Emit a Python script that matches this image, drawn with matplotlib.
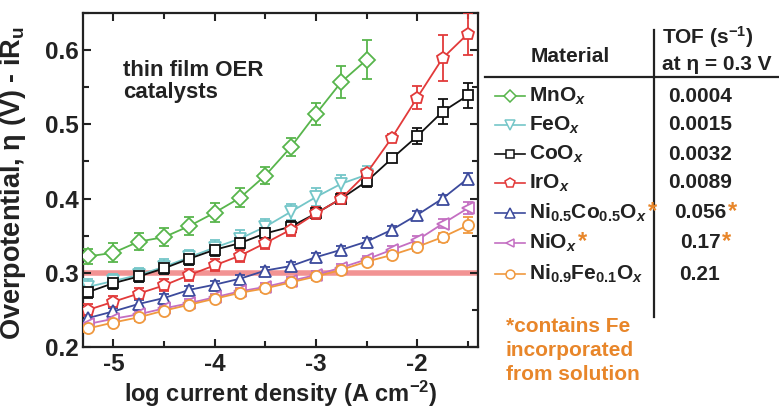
import matplotlib
matplotlib.use("Agg")
import matplotlib.pyplot as plt
import numpy as np
from matplotlib.ticker import MultipleLocator

plt.rcParams['font.family'] = ['Liberation Sans', 'DejaVu Sans']
plt.rcParams['font.weight'] = 'bold'
plt.rcParams['mathtext.fontset'] = 'custom'
plt.rcParams['mathtext.rm'] = 'Liberation Sans:bold'
plt.rcParams['mathtext.it'] = 'Liberation Sans:italic:bold'
plt.rcParams['mathtext.bf'] = 'Liberation Sans:bold'

# ---------------- data ----------------
log_j = [-5.25, -5.0, -4.75, -4.5, -4.25, -4.0, -3.75, -3.5, -3.25, -3.0,
         -2.75, -2.5, -2.25, -2.0, -1.75, -1.5]

mno = [0.322, 0.327, 0.342, 0.348, 0.363, 0.381, 0.401, 0.431, 0.469, 0.514, 0.557, 0.587]
mno_err = [0.010, 0.013, 0.011, 0.012, 0.012, 0.013, 0.013, 0.012, 0.012, 0.015, 0.022, 0.026]

feo = [0.281, 0.289, 0.297, 0.308, 0.321, 0.334, 0.346, 0.362, 0.382, 0.402, 0.420, 0.432]
feo_err = [0.010, 0.010, 0.010, 0.010, 0.010, 0.010, 0.011, 0.011, 0.011, 0.012, 0.012, 0.012]

coo = [0.274, 0.286, 0.295, 0.306, 0.319, 0.331, 0.340, 0.353, 0.362, 0.380, 0.400, 0.423,
       0.454, 0.484, 0.517, 0.539]
coo_err = [0.008, 0.008, 0.008, 0.008, 0.008, 0.008, 0.008, 0.008, 0.008, 0.008, 0.008, 0.008,
           0.004, 0.011, 0.017, 0.017]

iro = [0.250, 0.261, 0.272, 0.283, 0.297, 0.310, 0.323, 0.340, 0.358, 0.380, 0.400, 0.434,
       0.482, 0.536, 0.589, 0.622]
iro_err = [0.008, 0.008, 0.008, 0.008, 0.008, 0.008, 0.008, 0.008, 0.008, 0.008, 0.008, 0.006,
           0.005, 0.015, 0.031, 0.028]

nico = [0.239, 0.248, 0.258, 0.266, 0.277, 0.284, 0.292, 0.303, 0.309, 0.321, 0.331, 0.342,
        0.358, 0.378, 0.400, 0.427]
nico_err = [0.005] * 15 + [0.007]

nio = [0.231, 0.238, 0.244, 0.252, 0.259, 0.267, 0.275, 0.281, 0.289, 0.297, 0.307, 0.318,
       0.331, 0.344, 0.366, 0.387]
nio_err = [0.005] * 14 + [0.006, 0.008]

nife = [0.225, 0.233, 0.240, 0.249, 0.257, 0.265, 0.273, 0.279, 0.287, 0.295, 0.304, 0.315,
        0.324, 0.335, 0.348, 0.364]
nife_err = [0.005] * 14 + [0.006, 0.011]

materials = ['MnO$_x$', 'FeO$_x$', 'CoO$_x$', 'IrO$_x$',
             'Ni$_{0.5}$Co$_{0.5}$O$_x$', 'NiO$_x$', 'Ni$_{0.9}$Fe$_{0.1}$O$_x$']
tof = ['0.0004', '0.0015', '0.0032', '0.0089', '0.056', '0.17', '0.21']
fe_flag = [False, False, False, False, True, True, False]

series = [mno, feo, coo, iro, nico, nio, nife]
errors = [mno_err, feo_err, coo_err, iro_err, nico_err, nio_err, nife_err]
colors = ['#58b54c', '#74c6c8', '#111111', '#e23a3a', '#3c4a9c', '#c46fc2', '#f0993f']
markers = ['D', 'v', 's', 'p', '^', '<', 'o']
msizes = [8, 9, 7, 9, 9, 8, 8]
eta_ref = 0.3
orange = '#e8862a'
dark = '#222222'

# ---------------- figure ----------------
fig = plt.figure(figsize=(7.79, 4.08), dpi=100)
ax = fig.add_axes([83/779, 1-347/408, 395/779, 334/408])

ax.axhline(eta_ref, color='#f08080', lw=4, alpha=0.85, zorder=1)

for y, e, c, m, ms in zip(series, errors, colors, markers, msizes):
    x = log_j[:len(y)]
    ax.errorbar(x, y, yerr=e, color=c, marker=m, ms=ms, mfc='white', mec=c, mew=1.3,
                lw=1.3, capsize=3.5, elinewidth=1.3, capthick=1.3, zorder=3)

ax.set_xlim(-5.3, -1.4)
ax.set_ylim(0.2, 0.65)
ax.xaxis.set_minor_locator(MultipleLocator(0.5))
ax.yaxis.set_minor_locator(MultipleLocator(0.05))
ax.set_yticks([0.2, 0.3, 0.4, 0.5, 0.6])
ax.set_xticks([-5, -4, -3, -2])
ax.set_xticklabels(['-5', '-4', '-3', '-2'])
ax.tick_params(which='both', direction='in', top=True, right=True, width=1.5,
               labelsize=17.5, colors=dark)
ax.tick_params(axis='y', pad=3)
ax.tick_params(axis='x', pad=4)
ax.tick_params(which='major', length=6)
ax.tick_params(which='minor', length=4)
for sp in ax.spines.values():
    sp.set_linewidth(1.6)
    sp.set_color(dark)

ax.set_xlabel('log current density (A cm$^{-2}$)', fontsize=17, fontweight='bold',
              color=dark)
ax.xaxis.set_label_coords(0.5, -0.094)
ax.set_ylabel('Overpotential, η (V) - iR$_\\mathrm{u}$', fontsize=19.5, fontweight='bold',
              color=dark)
ax.yaxis.set_label_coords(-0.138, 0.49)

ax.text(0.101, 0.86, 'thin film OER\ncatalysts', transform=ax.transAxes,
        fontsize=16, fontweight='bold', va='top', ha='left', color=dark, linespacing=1.1)

# ---------------- table / legend ----------------
tab = fig.add_axes([0, 0, 1, 1], facecolor='none')
tab.set_xlim(0, 779)
tab.set_ylim(408, 0)
tab.axis('off')

tab.plot([485, 779], [77, 77], color=dark, lw=1.6)
tab.plot([654, 654], [30, 317], color=dark, lw=1.6)

tab.text(570, 56, 'Material', fontsize=15, fontweight='bold', ha='center', va='center',
         color=dark)
tab.text(662, 37, 'TOF (s$^{-1}$)', fontsize=15, fontweight='bold', ha='left', va='center',
         color=dark)
tab.text(662, 64, 'at η = 0.3 V', fontsize=15, fontweight='bold', ha='left', va='center',
         color=dark)

row_y = [96, 125, 154, 183, 213, 243, 274]
for i, (name, val, flag) in enumerate(zip(materials, tof, fe_flag)):
    yy = row_y[i]
    tab.plot([495, 510, 525], [yy, yy, yy], color=colors[i], lw=1.2, marker=markers[i],
             markevery=[1], ms=msizes[i] * 0.8, mfc='white', mec=colors[i], mew=1.1)
    t = tab.text(529, yy, name, fontsize=15, fontweight='bold', ha='left', va='center',
                 color=dark)
    v = tab.text(700, yy, val, fontsize=15, fontweight='bold', ha='center', va='center',
                 color=dark)
    if flag:
        tab.annotate('*', xy=(1, 0.5), xycoords=t, xytext=(1, 1), textcoords='offset points',
                     fontsize=17, fontweight='bold', color=orange, ha='left', va='center')
        tab.annotate('*', xy=(1, 0.5), xycoords=v, xytext=(1, 1), textcoords='offset points',
                     fontsize=17, fontweight='bold', color=orange, ha='left', va='center')

tab.text(506, 326, '*contains Fe', fontsize=15, fontweight='bold', ha='left',
         va='center', color=orange)
tab.text(506, 350, 'incorporated', fontsize=15, fontweight='bold', ha='left',
         va='center', color=orange)
tab.text(506, 374, 'from solution', fontsize=15, fontweight='bold', ha='left',
         va='center', color=orange)

fig.savefig('out.png', dpi=100)
